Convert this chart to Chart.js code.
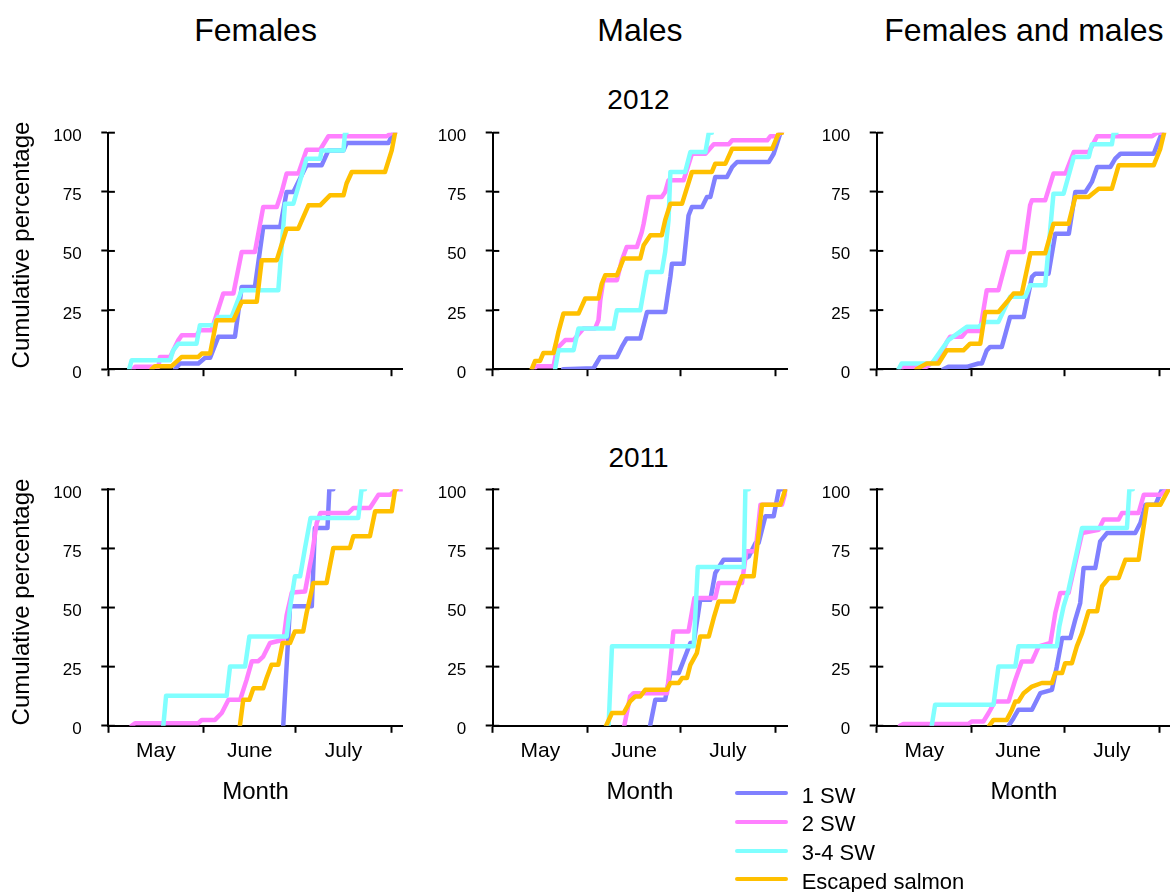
<!DOCTYPE html>
<html><head><meta charset="utf-8">
<script src="https://cdn.jsdelivr.net/npm/chart.js@4.4.0/dist/chart.umd.min.js"></script>
<style>
html,body{margin:0;padding:0;background:#fff;width:1170px;height:892px;overflow:hidden;}
body{position:relative;font-family:"Liberation Sans",Arial,sans-serif;color:#000;}
canvas{position:absolute;}
.t{position:absolute;white-space:nowrap;line-height:1;color:#000;}
</style></head><body>
<script>
// ---- data (x = days since 1 May, y = cumulative percentage) ----
const colTitles = ['Females', 'Males', 'Females and males'];
const rowYears = ['2012', '2011'];
const seriesNames = ['1 SW', '2 SW', '3-4 SW', 'Escaped salmon'];
const monthBounds = [0, 31, 61, 92];
const monthMids = [15.5, 46, 76.5];
const monthLabels = ['May', 'June', 'July'];
const yTicks = [0, 25, 50, 75, 100];

const f12_sw1 = [[21.7,0],[23.3,2.4],[29.3,2.4],[31.5,4.8],[33.1,4.8],[35.8,13.7],[41.2,13.7],[43.4,34.8],[47.7,34.8],[50.4,60.1],[55.9,60.1],[58,74.9],[60.2,74.9],[64.5,86.2],[69.4,86.2],[71.6,92.5],[76.5,92.5],[77.5,95.6],[91.1,95.6],[92.7,100],[93.3,100]];
const f12_sw2 = [[8.1,0],[8.7,1],[16.3,1],[16.8,5.2],[20.1,5.2],[22.8,12.3],[23.9,14.4],[28.7,14.4],[29.8,16.5],[33.6,16.5],[37.4,32],[40.7,32],[43.4,49.6],[47.7,49.6],[50.4,68.6],[54.8,68.6],[56.4,74.9],[58,82.7],[61.8,82.7],[64.5,92.8],[68.9,92.8],[71.6,98.5],[90.6,98.5],[92.2,100],[93.3,100]];
const f12_sw34 = [[6.8,0],[7.6,3.8],[20.1,3.8],[21.1,8],[22.8,10.8],[28.7,10.8],[29.8,18.6],[34.2,18.6],[35.8,22.1],[40.1,22.1],[43.4,33.4],[55.3,33.4],[57.5,70],[60.2,70],[64.5,89],[68.9,89],[69.4,92.5],[76.5,92.5],[77,100],[77.5,100]];
const f12_esc = [[14.1,0],[15.2,1.3],[20.6,1.3],[23.9,5.2],[29.3,5.2],[30.4,6.6],[33.1,6.6],[35.2,20.7],[40.7,20.7],[43.4,28.5],[48.3,28.5],[49.9,46.1],[54.8,46.1],[58,59.4],[61.8,59.4],[65.1,69.3],[68.9,69.3],[72.1,73.5],[76.5,73.5],[77.5,78.5],[79.2,83.4],[90,83.4],[92.2,92.5],[93.3,100]];

const m12_sw1 = [[22.9,0],[32.8,0.4],[35,5.2],[40.4,5.2],[42,9.4],[43.6,13],[48,13],[50.2,24.2],[56.1,24.2],[57.8,39],[58.3,44.6],[62.1,44.6],[63.7,65],[64.8,68.6],[68.1,68.6],[69.7,72.8],[70.8,72.8],[72.4,81.3],[76.2,81.3],[77.9,85.5],[79.5,87.6],[89.8,87.6],[91.4,91.1],[93.6,100]];
const m12_sw2 = [[13.3,0],[14.3,1.3],[19.8,1.3],[20.8,8],[21.4,9.4],[23.6,12.3],[26.3,12.3],[29.5,17.2],[33.3,17.2],[34.4,20.7],[35,29.2],[36,37.6],[40.4,37.6],[42,46.1],[43.6,51.7],[46.9,51.7],[48.5,58],[49.1,61.5],[50.7,72.8],[55,72.8],[56.1,74.9],[57.2,79.9],[62.1,79.9],[64.8,91.1],[69.2,91.1],[71.9,95.1],[76.8,95.1],[77.9,96.8],[89.3,96.8],[90.3,98.5],[92.5,98.5],[93.6,100],[94.1,100]];
const m12_sw34 = [[20.3,0],[21.4,8],[26.3,8],[27.9,17.2],[39.3,17.2],[40.4,24.9],[48,24.9],[50.2,41.1],[55,41.1],[56.1,49.6],[57.2,63],[57.8,83.4],[62.6,83.4],[64.3,91.8],[69.2,91.8],[70.3,100],[71.3,100]];
const m12_esc = [[12.7,0],[13.8,3.5],[15.4,3.5],[16.5,6.9],[19.8,6.9],[20.8,12.3],[21.4,15.8],[23,23.5],[27.9,23.5],[30.1,29.9],[34.4,29.9],[35.5,36.2],[36.6,39.7],[40.4,39.7],[42.6,46.8],[48,46.8],[49.1,52.4],[51.3,56.6],[55,56.6],[56.1,63],[57.8,70],[61.6,70],[64.8,83.4],[71.3,83.4],[72.4,86.9],[75.7,86.9],[77.9,93.2],[90.9,93.2],[93.1,100],[94.1,100]];

const fm12_sw1 = [[21.7,0],[23.3,1],[29.3,1],[33.1,2.4],[34.2,2.4],[35.8,8],[36.9,9.4],[40.7,9.4],[43.4,22.1],[47.8,22.1],[50.5,39],[51.6,40.4],[55.9,40.4],[58.1,57.3],[62.5,57.3],[64.6,74.9],[67.9,74.9],[70,79.2],[71.7,85.5],[76,85.5],[77.6,89],[79.3,91.1],[90.1,91.1],[92.8,100]];
const fm12_sw2 = [[7.6,0],[8.7,1],[16.3,1],[19,3.8],[20.1,3.8],[22.8,11.5],[23.9,13.7],[27.7,13.7],[29.3,16.2],[33.6,16.2],[35.8,33.4],[39.6,33.4],[42.9,49.6],[47.8,49.6],[49.9,69.3],[50.5,71.4],[54.8,71.4],[57.5,82.7],[61.4,82.7],[64.1,91.8],[69,91.8],[71.7,98.5],[89.6,98.5],[91.2,100],[92.8,100]];
const fm12_sw34 = [[7.1,0],[8.1,2.4],[17.9,2.4],[21.7,9.4],[23.3,12.3],[29.3,17.9],[33.1,17.9],[35.3,20],[39.6,20],[43.4,30.6],[48.3,30.6],[49.9,35.5],[54.8,35.5],[57.5,74.2],[60.8,74.2],[64.1,89.7],[69,89.7],[70,95.1],[76.5,95.1],[77.1,100],[78,100]];
const fm12_esc = [[13,0],[14.7,1.3],[16.3,2.4],[20.1,2.4],[22.8,8],[28.2,8],[30.4,10.8],[33.7,10.8],[35.3,24.2],[39.6,24.2],[42.4,28.5],[44.5,32],[47.2,32],[50,49],[54.8,49],[57.5,61.5],[62.4,61.5],[64.6,72.8],[68.9,72.8],[72.2,76.3],[76.5,76.3],[78.7,86.2],[90.1,86.2],[92.2,93],[93.5,100]];

const f11_sw1 = [[56.9,0],[59.1,50.5],[66.2,50.5],[67.2,83.6],[71.3,83.6],[71.9,100],[73.2,100]];
const f11_sw2 = [[7.6,0],[8.7,1.1],[29.3,1.1],[30.4,2.5],[34.7,2.5],[36.9,5.4],[39.1,11],[42.9,11],[45,19.5],[46.7,27.3],[48.8,27.3],[50.4,29.3],[52.6,35],[57,36.4],[58,46.6],[59.7,56.4],[64,56.8],[65.6,68],[66.2,72],[67.8,85.8],[69,90],[78.1,90],[79.7,92.1],[85.1,92.1],[87.9,97.7],[91.7,97.7],[93.8,100],[95.5,100]];
const f11_sw34 = [[17.9,0],[18.8,12.7],[38.5,12.7],[39.6,25.1],[44.5,25.1],[45.9,37.8],[58,37.8],[59.1,49.8],[60.7,63.2],[62.4,63.2],[64,75.2],[65.8,87.9],[81.3,87.9],[82.4,100],[83.5,100]];
const f11_esc = [[42.8,0],[43.9,11],[45.9,11],[47.2,15.9],[50.4,15.9],[51.5,20.2],[53.1,25.8],[55.3,25.8],[56.7,35],[59.1,35],[60.7,39.9],[63.4,39.9],[64.5,47.7],[66.7,60.4],[71,60.4],[73.2,75.2],[78.6,75.2],[79.7,80.1],[85.1,80.1],[86.8,90.7],[92.2,90.7],[93.3,100],[93.8,100]];

const m11_sw1 = [[51.2,0],[52.9,11],[56.1,11],[57.8,22.3],[60.5,22.3],[64.3,35],[65.4,35],[67.5,53.3],[70.8,53.3],[72.4,64.6],[75.1,70.2],[81.7,70.2],[83.3,71.6],[85.5,77.3],[86.5,77.3],[88.7,88.6],[91.4,88.6],[93.1,100],[95.5,100]];
const m11_sw2 = [[42.8,0],[44.7,12.4],[45.8,13.8],[56.7,13.8],[57.8,27.2],[58.8,39.9],[63.7,39.9],[65.6,54],[72.4,54],[73.5,60.4],[81.1,60.4],[82.5,73.8],[85.5,73.8],[87.1,93.5],[94.1,93.5],[95.5,100]];
const m11_sw34 = [[37.7,0],[38.8,33.6],[65.4,33.6],[66.7,67.1],[81.7,67.1],[82.2,100],[83.3,100]];
const m11_esc = [[36.9,0],[38.8,5.4],[42.6,5.4],[44.7,10.3],[46.4,12.4],[48,12.4],[49.6,15.2],[56.7,15.2],[57.8,18.1],[60.5,18.1],[61.6,20.2],[63.2,20.2],[64.3,25.8],[66.4,30.7],[67.5,37.8],[70.3,37.8],[71.9,45.6],[73.5,52.6],[78.4,52.6],[79.5,57.5],[81.1,63.2],[84.9,63.2],[87.6,93.5],[93.6,93.5],[95.2,100],[95.5,100]];

const fm11_sw1 = [[42.9,0],[44.5,3.2],[46.1,6.8],[50.5,6.8],[53.2,13.8],[57,15.2],[58.6,25.1],[60.3,37.1],[63,37.1],[64.6,44.9],[66.2,51.9],[67.3,66.7],[71.1,66.7],[72.7,78],[74.9,81.5],[84.1,81.5],[85.8,85.8],[87.4,93.5],[90.7,93.5],[92.8,100],[95.5,100]];
const fm11_sw2 = [[7.6,0],[8.7,0.8],[29.9,0.8],[30.9,1.8],[34.7,1.8],[36.4,5.4],[38.5,10.3],[42.9,10.3],[45.1,19.5],[47.2,27.2],[50.5,27.2],[52.7,33.6],[56.5,35],[58.1,47.7],[59.7,56.1],[62.4,56.1],[64.6,68.8],[66.8,81.5],[72.2,82.9],[73.8,87.2],[78.7,87.2],[79.8,90],[85.2,90],[86.9,97.7],[92.3,97.7],[94.5,100],[95.5,100]];
const fm11_sw34 = [[17.9,0],[19,8.9],[38,8.9],[39.6,25.1],[45.1,25.1],[46.1,33.6],[58.6,33.6],[59.4,42],[60.8,50.5],[62.4,57.5],[66.8,83.6],[81.4,83.6],[82.2,100],[83.3,100]];
const fm11_esc = [[36.6,0],[38,2.5],[42.3,2.5],[44,6.8],[45.1,10.3],[46.1,10.3],[47.8,13.8],[50.5,16.6],[53.7,18.1],[57,18.1],[58.1,22.3],[60.3,22.3],[61.3,26.5],[63.5,26.5],[65.1,33.6],[66.8,39.2],[68.9,48.4],[71.7,48.4],[73.3,59],[75.5,62.5],[78.7,62.5],[80.9,70.2],[85.2,70.2],[87.9,93.5],[92.3,93.5],[95,100],[95.5,100]];

const panelData = [
  [[f12_sw1, f12_sw2, f12_sw34, f12_esc], [m12_sw1, m12_sw2, m12_sw34, m12_esc], [fm12_sw1, fm12_sw2, fm12_sw34, fm12_esc]],
  [[f11_sw1, f11_sw2, f11_sw34, f11_esc], [m11_sw1, m11_sw2, m11_sw34, m11_esc], [fm11_sw1, fm11_sw2, fm11_sw34, fm11_esc]]
];

// ---- style / layout ----
const COLORS = ['#8080FF', '#FF80FF', '#80FFFF', '#FFC000'];
const FONT = '"Liberation Sans", Arial, sans-serif';
Chart.defaults.font.family = FONT;
Chart.defaults.color = '#000';
const X_MAX = 95.8;
const colL = [108.3, 492.7, 876.7];
const rowT = [132.7, 489.3];
const plotW = 294.5, plotH = 236.5;

function addText(txt, x, baseline, size, opts) {
  opts = opts || {};
  const d = document.createElement('div');
  d.className = 't';
  d.textContent = txt;
  d.style.fontSize = size + 'px';
  d.style.top = (baseline - 0.8465 * size) + 'px';
  d.style.left = x + 'px';
  if (opts.center) d.style.transform = 'translateX(-50%)';
  document.body.appendChild(d);
  return d;
}
function addRotText(txt, cx, cy, size) {
  const d = document.createElement('div');
  d.className = 't';
  d.textContent = txt;
  d.style.fontSize = size + 'px';
  d.style.left = cx + 'px';
  d.style.top = cy + 'px';
  d.style.transform = 'translate(-50%,-50%) rotate(-90deg)';
  document.body.appendChild(d);
}

// inner half of the y tick marks + y tick labels, placed through the y scale
const yAxisExtras = {
  id: 'yAxisExtras',
  beforeDatasetsDraw(chart) {
    const ys = chart.scales.y, ctx = chart.ctx, x0 = chart.chartArea.left;
    ctx.save();
    ctx.strokeStyle = '#000';
    ctx.lineWidth = 2;
    ctx.fillStyle = '#000';
    ctx.font = '17px ' + FONT;
    ctx.textAlign = 'right';
    ctx.textBaseline = 'alphabetic';
    yTicks.forEach(v => {
      const py = ys.getPixelForValue(v);
      ctx.beginPath();
      ctx.moveTo(x0, py);
      ctx.lineTo(x0 + 6.6, py);
      ctx.stroke();
      ctx.fillText(String(v), x0 - 26.6, py + 8.5);
    });
    ctx.restore();
  }
};

function makePanel(r, c) {
  const cl = Math.floor(colL[c] - 80), ct = Math.floor(rowT[r] - 16);
  const yW = colL[c] - cl, padTop = rowT[r] - ct;
  const W = Math.ceil(yW + plotW + 12), H = Math.ceil(padTop + plotH + 56);
  const padRight = W - yW - plotW, xH = H - padTop - plotH;
  const cv = document.createElement('canvas');
  cv.width = W; cv.height = H;
  cv.style.left = cl + 'px'; cv.style.top = ct + 'px';
  cv.style.width = W + 'px'; cv.style.height = H + 'px';
  document.body.appendChild(cv);
  const series = panelData[r][c];
  new Chart(cv, {
    type: 'line',
    data: {
      datasets: series.map((d, i) => ({
        label: seriesNames[i], data: d, borderColor: COLORS[i], backgroundColor: COLORS[i],
        borderWidth: 4.5, pointRadius: 0, tension: 0, fill: false,
        borderCapStyle: 'round', borderJoinStyle: 'round', order: 3 - i
      }))
    },
    options: {
      responsive: false, animation: false, events: [],
      layout: { padding: { top: padTop, right: padRight, left: 0, bottom: 0 } },
      plugins: { legend: { display: false }, tooltip: { enabled: false } },
      scales: {
        x: {
          type: 'linear', min: 0, max: X_MAX,
          afterFit: s => { s.height = xH; s.paddingLeft = 0; s.paddingRight = 0; },
          afterBuildTicks: s => { s.ticks = monthBounds.concat(monthMids).sort((a, b) => a - b).map(v => ({ value: v })); },
          grid: {
            drawOnChartArea: false, tickLength: 7, tickWidth: 2,
            tickColor: ctx => (ctx.tick && monthBounds.includes(ctx.tick.value)) ? '#000' : 'rgba(0,0,0,0)'
          },
          border: { display: true, color: '#000', width: 2 },
          ticks: {
            autoSkip: false, maxRotation: 0, minRotation: 0, padding: 6, color: '#000',
            font: { family: FONT, size: 21 },
            callback: v => { const k = monthMids.indexOf(v); return (r === 1 && k >= 0) ? monthLabels[k] : ''; }
          }
        },
        y: {
          type: 'linear', position: 'left', min: 0, max: 100,
          afterFit: s => { s.width = yW; s.paddingTop = 0; s.paddingBottom = 0; },
          afterBuildTicks: s => { s.ticks = yTicks.map(v => ({ value: v })); },
          grid: { drawOnChartArea: false, tickLength: 7, tickWidth: 2, tickColor: '#000' },
          border: { display: true, color: '#000', width: 2 },
          ticks: { display: false }
        }
      }
    },
    plugins: [yAxisExtras]
  });
}

for (let r = 0; r < 2; r++) for (let c = 0; c < 3; c++) makePanel(r, c);

// titles
colTitles.forEach((t, c) => addText(t, colL[c] + plotW / 2, 41, 32, { center: true }));
addText(rowYears[0], 638.5, 110, 28, { center: true });
addText(rowYears[1], 638.5, 468, 28, { center: true });
for (let c = 0; c < 3; c++) addText('Month', colL[c] + plotW / 2, 799, 24, { center: true });
addRotText('Cumulative percentage', 20.6, 245, 24);
addRotText('Cumulative percentage', 20.6, 601.6, 24);

// legend
seriesNames.forEach((n, i) => {
  const cy = 793.3 + i * 28.7;
  const ln = document.createElement('div');
  ln.style.cssText = 'position:absolute;left:735px;width:53px;height:4px;border-radius:2px;top:' + (cy - 2) + 'px;background:' + COLORS[i] + ';';
  document.body.appendChild(ln);
  addText(n, 801.7, cy + 10, 22);
});
</script>
</body></html>
